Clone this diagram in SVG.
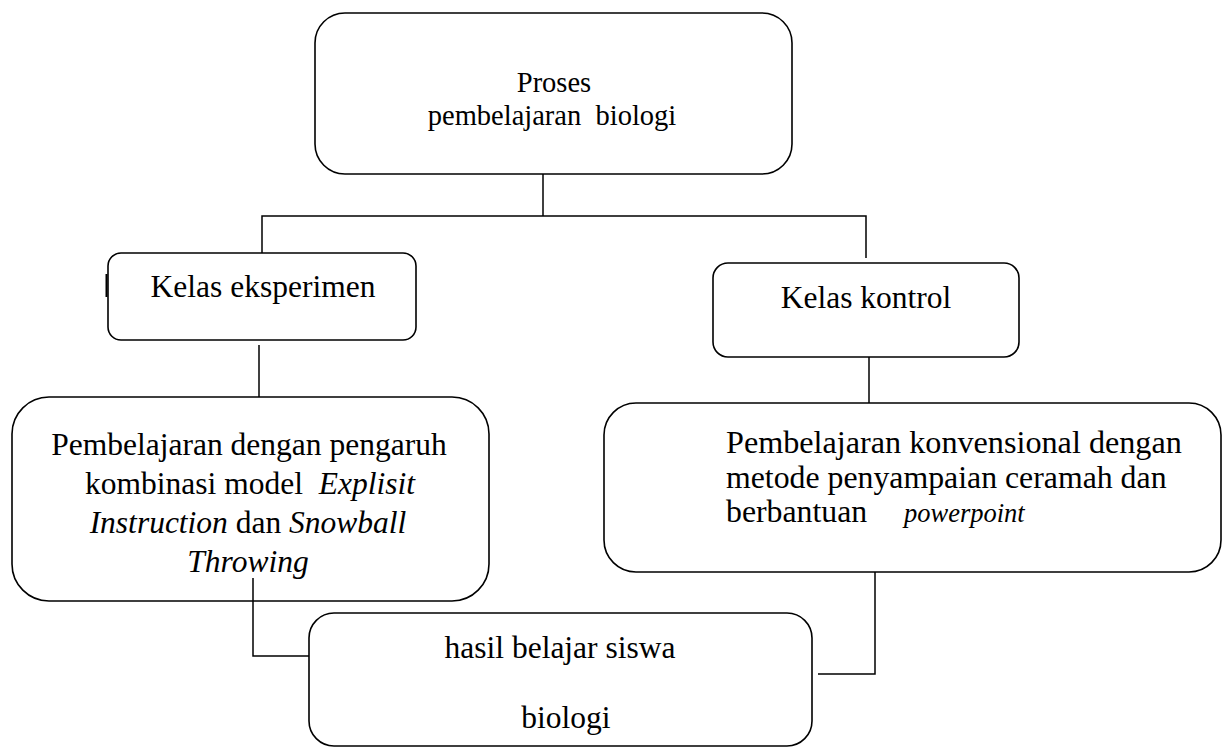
<svg xmlns="http://www.w3.org/2000/svg" width="1222" height="747" viewBox="0 0 1222 747">
<style>
.box{fill:#fff;stroke:#000;stroke-width:1.6}
.t{font-family:'Liberation Serif',serif;font-size:31.5px;fill:#000}
.i{font-style:italic}
.c{fill:none;stroke:#000;stroke-width:1.5}
</style>
<line x1="106.5" y1="274" x2="106.5" y2="297" stroke="#000" stroke-width="2"/>
<g id="node-proses">
<rect class="box" x="315" y="13" width="477" height="161" rx="30"/>
<text class="t" x="554" y="92" text-anchor="middle" style="font-size:28.5px">Proses</text>
<text class="t" x="552" y="125" text-anchor="middle" style="font-size:28.5px" xml:space="preserve">pembelajaran  biologi</text>
</g>
<g id="node-eksperimen">
<rect class="box" x="108" y="253" width="308" height="87" rx="13"/>
<text class="t" x="263" y="297" text-anchor="middle">Kelas eksperimen</text>
</g>
<g id="node-kontrol">
<rect class="box" x="713" y="263" width="306" height="94" rx="15"/>
<text class="t" x="866" y="308" text-anchor="middle">Kelas kontrol</text>
</g>
<g id="node-model">
<rect class="box" x="12" y="397" width="477" height="204" rx="37"/>
<text class="t" x="249" y="455" text-anchor="middle">Pembelajaran dengan pengaruh</text>
<text class="t" x="250" y="494" text-anchor="middle" xml:space="preserve">kombinasi model  <tspan class="i">Explisit</tspan></text>
<text class="t" x="248" y="533" text-anchor="middle"><tspan class="i">Instruction</tspan> dan <tspan class="i">Snowball</tspan></text>
<text class="t i" x="248" y="572" text-anchor="middle">Throwing</text>
</g>
<g id="node-konvensional">
<rect class="box" x="604" y="403" width="617" height="169" rx="32"/>
<text class="t" x="726" y="453" style="font-size:32.2px">Pembelajaran konvensional dengan</text>
<text class="t" x="726" y="488" style="font-size:31.8px">metode penyampaian ceramah dan</text>
<text class="t" x="726" y="522" style="font-size:31.8px">berbantuan</text>
<text class="t i" x="904" y="522" style="font-size:26.5px">powerpoint</text>
</g>
<g id="node-hasil">
<rect class="box" x="309" y="613" width="503" height="133" rx="25"/>
<text class="t" x="560" y="658" text-anchor="middle">hasil belajar siswa</text>
<text class="t" x="566" y="728" text-anchor="middle">biologi</text>
</g>
<g id="connectors">
<path class="c" d="M543,174 V216"/>
<path class="c" d="M262,253 V216 H866 V258"/>
<path class="c" d="M259,345 V397"/>
<path class="c" d="M869,357 V403"/>
<path class="c" d="M253,578 V656 H309"/>
<path class="c" d="M875,572 V674 H818"/>
</g>
</svg>
